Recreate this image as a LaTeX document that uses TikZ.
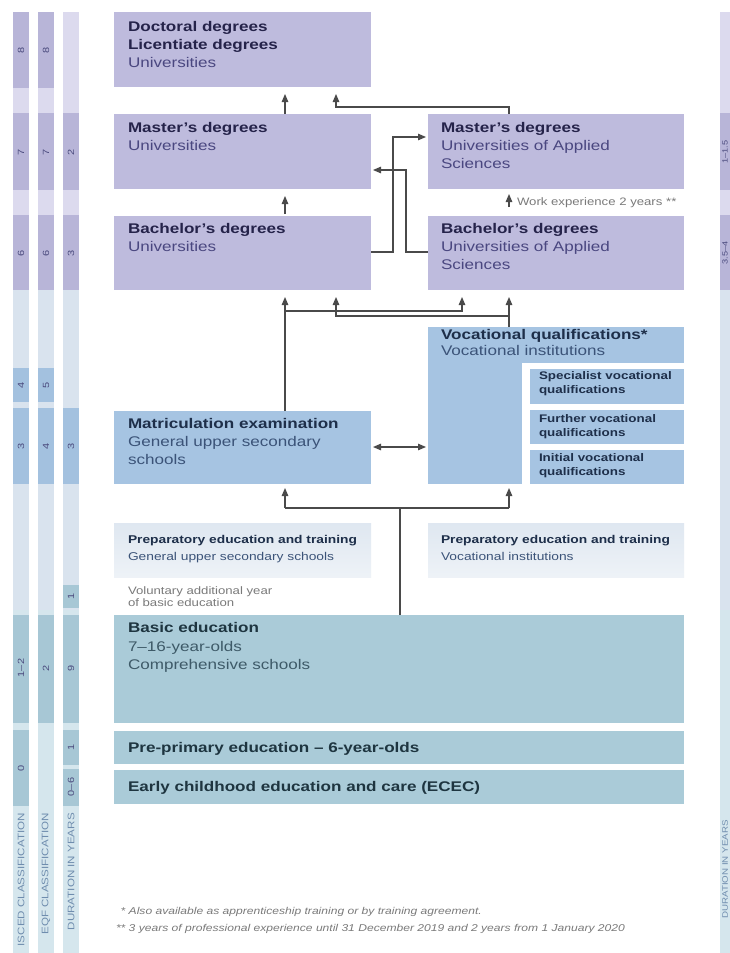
\documentclass[tikz,border=0pt]{standalone}
\usepackage{fontspec}
\setmainfont{Liberation Sans}[FakeStretch=1.22]
\usetikzlibrary{arrows.meta,calc}
\definecolor{boxp}{HTML}{BEBBDD}
\definecolor{boxb}{HTML}{A6C4E2}
\definecolor{boxt}{HTML}{AACBD8}
\definecolor{purpD}{HTML}{B8B5D8}
\definecolor{purpL}{HTML}{DCDAEE}
\definecolor{blueD}{HTML}{A3C1DF}
\definecolor{blueL}{HTML}{D9E3EE}
\definecolor{tealD}{HTML}{A7C7D5}
\definecolor{tealL}{HTML}{D5E6ED}
\definecolor{ptitle}{HTML}{25234A}
\definecolor{preg}{HTML}{4A4780}
\definecolor{btitle}{HTML}{1E2F4A}
\definecolor{breg}{HTML}{3B5378}
\definecolor{ttitle}{HTML}{1E3540}
\definecolor{treg}{HTML}{3E5A68}
\definecolor{grayt}{HTML}{7A7A7A}
\definecolor{striptext}{HTML}{6F8DAE}
\definecolor{numtext}{HTML}{4B4B7E}
\definecolor{linec}{HTML}{4A4A4A}
\begin{document}
\begin{tikzpicture}[x=1pt,y=-1pt,
  box/.style={anchor=north west,inner sep=0pt,outer sep=0pt,draw=none},
  txt/.style={anchor=north west,inner sep=0pt,outer sep=0pt,align=left,execute at begin node=\strut},
  big/.style={txt,font=\fontsize{14}{18}\selectfont},
  small/.style={txt,font=\fontsize{11}{14}\selectfont\bfseries,text=btitle},
  num/.style={rotate=90,inner sep=0pt,font=\fontsize{9}{10}\selectfont,text=numtext},
  rnum/.style={rotate=90,inner sep=0pt,font=\fontsize{7.5}{8}\selectfont,text=numtext},
  slabel/.style={rotate=90,anchor=east,inner sep=0pt,font=\fontsize{9.5}{11}\selectfont,text=striptext},
  ln/.style={draw=linec,line width=1.2pt},
  arr/.style={ln,-{Triangle[length=8pt,width=6.5pt]},shorten >=7pt},
  dbl/.style={ln,{Triangle[length=8pt,width=6.5pt]}-{Triangle[length=8pt,width=6.5pt]},shorten >=2pt,shorten <=2pt}]
\useasboundingbox (0,0) rectangle (730,953);
\fill[white] (0,0) rectangle (730,953);
\begin{scope}
\clip (0,0) rectangle (730,953);
% ---------- side strips ----------
\foreach \sx in {13,38,63,720}{
  \fill[purpL] (\sx,12) rectangle (\sx+16,290);
  \fill[blueL] (\sx,290) rectangle (\sx+16,610);
  \fill[tealL] (\sx,610) rectangle (\sx+16,953);
}
% ISCED column
\foreach \ya/\yb in {12/88,113/190,215/290}{\fill[purpD] (13,\ya) rectangle (29,\yb);}
\foreach \ya/\yb in {368/402,408/484}{\fill[blueD] (13,\ya) rectangle (29,\yb);}
\foreach \ya/\yb in {615/723,730/806}{\fill[tealD] (13,\ya) rectangle (29,\yb);}
% EQF column
\foreach \ya/\yb in {12/88,113/190,215/290}{\fill[purpD] (38,\ya) rectangle (54,\yb);}
\foreach \ya/\yb in {368/402,408/484}{\fill[blueD] (38,\ya) rectangle (54,\yb);}
\fill[tealD] (38,615) rectangle (54,723);
% Duration column
\foreach \ya/\yb in {113/190,215/290}{\fill[purpD] (63,\ya) rectangle (79,\yb);}
\fill[blueD] (63,408) rectangle (79,484);
\foreach \ya/\yb in {585/608,615/723,730/765,769/806}{\fill[tealD] (63,\ya) rectangle (79,\yb);}
% Right duration column
\foreach \ya/\yb in {113/190,215/290}{\fill[purpD] (720,\ya) rectangle (736,\yb);}
% strip numbers
\node[num] (i8) at (21,50) {8};
\node[num] (i7) at (21,152) {7};
\node[num] (i6) at (21,253) {6};
\node[num] (i4) at (21,385) {4};
\node[num] (i3) at (21,446) {3};
\node[num] (i12) at (21,668) {1–2};
\node[num] (i0) at (21,768) {0};
\node[num] (e8) at (46,50) {8};
\node[num] (e7) at (46,152) {7};
\node[num] (e6) at (46,253) {6};
\node[num] (e5) at (46,385) {5};
\node[num] (e4) at (46,446) {4};
\node[num] (e2) at (46,668) {2};
\node[num] (d2) at (71,152) {2};
\node[num] (d3) at (71,253) {3};
\node[num] (d3b) at (71,446) {3};
\node[num] (d1) at (71,596) {1};
\node[num] (d9) at (71,668) {9};
\node[num] (d1b) at (71,747) {1};
\node[num] (d06) at (71,787) {0–6};
\node[rnum] (r1) at (725,152) {1–1.5};
\node[rnum] (r2) at (725,253) {3.5–4};
% strip labels
\node[slabel] (lisced) at (21,813) {ISCED CLASSIFICATION};
\node[slabel] (leqf) at (46,813) {EQF CLASSIFICATION};
\node[slabel] (ldur) at (71,813) {DURATION IN YEARS};
\node[rotate=90,anchor=east,inner sep=0pt,font=\fontsize{8}{9}\selectfont,text=striptext] (rdur) at (725,820) {DURATION IN YEARS};
% ---------- boxes ----------
\node[box,fill=boxp,minimum width=257pt,minimum height=75pt] (doc) at (114,12) {};
\node[box,fill=boxp,minimum width=257pt,minimum height=75pt] (mu) at (114,114) {};
\node[box,fill=boxp,minimum width=256pt,minimum height=75pt] (mas) at (428,114) {};
\node[box,fill=boxp,minimum width=257pt,minimum height=74pt] (bu) at (114,216) {};
\node[box,fill=boxp,minimum width=256pt,minimum height=74pt] (bas) at (428,216) {};
\node[box,fill=boxb,minimum width=256pt,minimum height=157pt] (voc) at (428,327) {};
\fill[white] (522,363) rectangle (690,484);
\node[box,fill=boxb,minimum width=154pt,minimum height=35pt] (sp) at (530,369) {};
\node[box,fill=boxb,minimum width=154pt,minimum height=34pt] (fu) at (530,410) {};
\node[box,fill=boxb,minimum width=154pt,minimum height=34pt] (ini) at (530,450) {};
\node[box,fill=boxb,minimum width=257pt,minimum height=73pt] (mat) at (114,411) {};
\node[box,top color=blueL!85,bottom color=blueL!45,minimum width=257pt,minimum height=54pt] (pl) at (114,523) {};
\node[box,top color=blueL!85,bottom color=blueL!45,minimum width=256pt,minimum height=54pt] (pr) at (428,523) {};
\node[box,fill=boxt,minimum width=570pt,minimum height=108pt] (be) at (114,615) {};
\node[box,fill=boxt,minimum width=570pt,minimum height=33pt] (pp) at (114,731) {};
\node[box,fill=boxt,minimum width=570pt,minimum height=34pt] (ec) at (114,770) {};
% ---------- texts ----------
\node[big,text=preg] (tdoc) at (128,21) {\textcolor{ptitle}{\textbf{Doctoral degrees}}\\\textcolor{ptitle}{\textbf{Licentiate degrees}}\\Universities};
\node[big,text=preg] (tmu) at (128,122) {\textcolor{ptitle}{\textbf{Master’s degrees}}\\Universities};
\node[big,text=preg] (tmas) at (441,122) {\textcolor{ptitle}{\textbf{Master’s degrees}}\\Universities of Applied\\Sciences};
\node[big,text=preg] (tbu) at (128,223) {\textcolor{ptitle}{\textbf{Bachelor’s degrees}}\\Universities};
\node[big,text=preg] (tbas) at (441,223) {\textcolor{ptitle}{\textbf{Bachelor’s degrees}}\\Universities of Applied\\Sciences};
\node[txt,font=\fontsize{14}{16}\selectfont,text=breg] (tvoc) at (441,329.4) {\textcolor{btitle}{\textbf{Vocational qualifications*}}\\Vocational institutions};
\node[small] (tsp) at (539,372) {Specialist vocational\\qualifications};
\node[small] (tfu) at (539,415) {Further vocational\\qualifications};
\node[small] (tini) at (539,454) {Initial vocational\\qualifications};
\node[big,text=breg] (tmat) at (128,418) {\textcolor{btitle}{\textbf{Matriculation examination}}\\General upper secondary\\schools};
\node[txt,font=\fontsize{11.3}{17}\selectfont,text=breg] (tpl) at (128,535) {\textcolor{btitle}{\textbf{Preparatory education and training}}\\General upper secondary schools};
\node[txt,font=\fontsize{11.3}{17}\selectfont,text=breg] (tpr) at (441,535) {\textcolor{btitle}{\textbf{Preparatory education and training}}\\Vocational institutions};
\node[txt,font=\fontsize{10.8}{12}\selectfont,text=grayt] (tvol) at (128,586.4) {Voluntary additional year\\of basic education};
\node[txt,font=\fontsize{14}{18.5}\selectfont,text=treg] (tbe) at (128,622.7) {\textcolor{ttitle}{\textbf{Basic education}}\\7–16-year-olds\\Comprehensive schools};
\node[big,text=ttitle,font=\fontsize{14}{18}\selectfont\bfseries] (tpp) at (128,740) {Pre-primary education – 6-year-olds};
\node[big,text=ttitle,font=\fontsize{14}{18}\selectfont\bfseries] (tec) at (128,779) {Early childhood education and care (ECEC)};
\node[txt,font=\fontsize{10.8}{13}\selectfont,text=grayt] (twe) at (517,196.7) {Work experience 2 years **};
\node[txt,font=\fontsize{9.9}{17.7}\selectfont\itshape,text=grayt] (tfn) at (116,907) {\hphantom{*}* Also available as apprenticeship training or by training agreement.\\** 3 years of professional experience until 31 December 2019 and 2 years from 1 January 2020};
% ---------- lane coordinates ----------
\coordinate (c285) at (285,0);
\coordinate (k1) at (509,107);
\coordinate (k2) at (336,107);
\coordinate (k3) at (393,252);
\coordinate (k4) at (393,137);
\coordinate (k5) at (406,252);
\coordinate (k6) at (406,170);
\coordinate (k7) at (285,311);
\coordinate (k8) at (462,311);
\coordinate (k9) at (509,316);
\coordinate (k10) at (336,316);
\coordinate (k11) at (400,508);
\coordinate (k12) at (285,508);
\coordinate (k13) at (509,508);
\coordinate (k14) at (400,447);
% ---------- connectors ----------
\draw[arr] (mu.north -| c285) -- (doc.south -| c285);
\draw[arr] (mas.north -| k1) -- (k1) -- (k2) -- (doc.south -| k2);
\draw[arr,shorten <=2pt] (bu.north -| c285) -- (mu.south -| c285);
\draw[arr,shorten >=2pt] (bu.east |- k3) -- (k3) -- (k4) -- (mas.west |- k4);
\draw[arr,shorten >=2pt] (bas.west |- k5) -- (k5) -- (k6) -- (mu.east |- k6);
\draw[arr,shorten <=9pt,shorten >=5pt] (bas.north -| k1) -- (mas.south -| k1);
\draw[arr] (mat.north -| c285) -- (bu.south -| c285);
\draw[arr] (k7) -- (k8) -- (bas.south -| k8);
\draw[arr] (voc.north -| k1) -- (bas.south -| k1);
\draw[arr] (k9) -- (k10) -- (bu.south -| k10);
\draw[ln] (be.north -| k11) -- (k11);
\draw[ln] (k12) -- (k13);
\draw[arr,shorten >=4pt] (k12) -- (mat.south -| k12);
\draw[arr,shorten >=4pt] (k13) -- (voc.south -| k13);
\draw[dbl] (mat.east |- k14) -- (voc.west |- k14);
\end{scope}
\end{tikzpicture}
\end{document}
